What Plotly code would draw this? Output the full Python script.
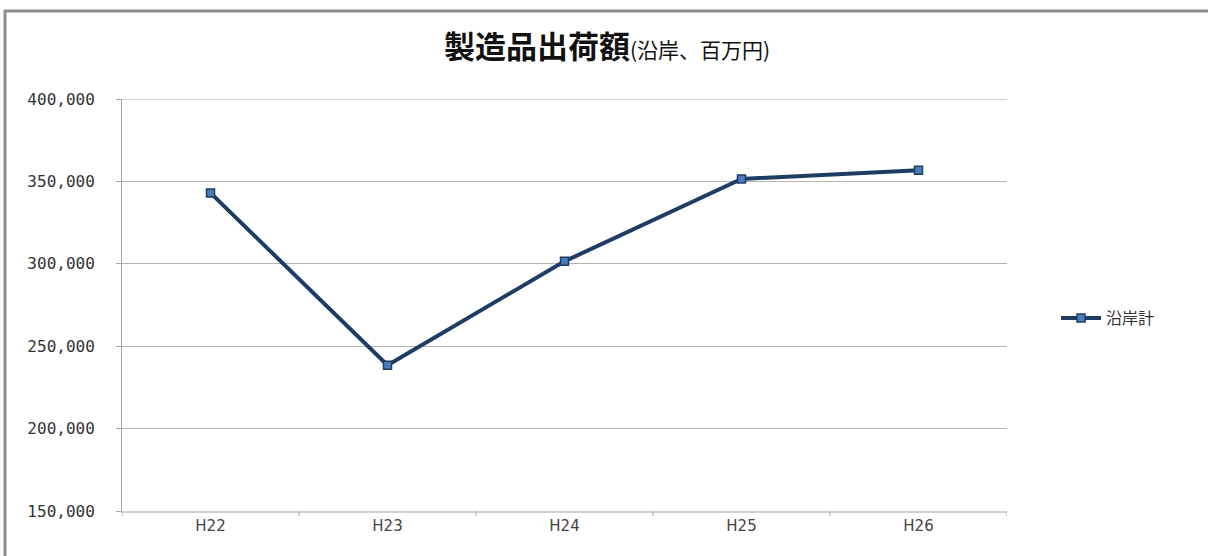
import plotly.graph_objects as go

categories = ["H22", "H23", "H24", "H25", "H26"]
values = [343000, 238500, 301500, 351500, 356800]
series_name = "沿岸計"
y_ticks = [150000, 200000, 250000, 300000, 350000, 400000]
y_tick_labels = ["150,000", "200,000", "250,000", "300,000", "350,000", "400,000"]

fig = go.Figure()
fig.add_trace(go.Scatter(
    x=categories, y=values, name=series_name, mode="lines+markers",
    line=dict(color="#1f3c64", width=4),
    marker=dict(symbol="square", size=8, color="#4a7ebb",
                line=dict(color="#1f3c64", width=1.5)),
))

L, R, T, B = 122, 201, 99, 45
W, H = 1208, 556
pw, ph = W - L - R, H - T - B

def px(x):
    return (x - L) / pw

def py(y):
    return (H - B - y) / ph

fig.update_layout(
    width=W, height=H,
    margin=dict(l=L, r=R, t=T, b=B),
    paper_bgcolor="white", plot_bgcolor="white",
    showlegend=True,
    legend=dict(x=px(1056), y=py(318), xanchor="left", yanchor="middle",
                font=dict(family="Noto Sans CJK JP", size=16, color="#333333"),
                bgcolor="rgba(0,0,0,0)", itemwidth=40),
    title=dict(
        text="<b>製造品出荷額</b><span style='font-size:21px'>(沿岸、百万円)</span>",
        x=607 / W, xref="container", xanchor="center", y=1 - 47 / H, yanchor="middle",
        font=dict(family="Noto Sans CJK JP", size=31, color="#111111"),
    ),
    xaxis=dict(
        type="category", range=[-0.5, 4.5],
        showgrid=False, showline=True, linecolor="#d0d0d0", linewidth=2,
        ticks="", tickfont=dict(family="DejaVu Sans", size=15, color="#444444"),
        fixedrange=True,
    ),
    yaxis=dict(
        range=[150000, 400000], tickvals=y_ticks, ticktext=y_tick_labels,
        showgrid=True, gridcolor="#b4b4b4", gridwidth=1,
        showline=True, linecolor="#a8a8a8", linewidth=1,
        ticks="outside", ticklen=5, tickcolor="#a8a8a8",
        ticklabelstandoff=18,
        tickfont=dict(family="DejaVu Sans Mono", size=16, color="#333333"),
        zeroline=False, fixedrange=True,
    ),
)

# light top gridline
fig.add_shape(type="line", xref="paper", yref="y", x0=0, x1=1, y0=400000, y1=400000,
              line=dict(color="#d4d4d4", width=2), layer="above")
# x-axis tick marks between categories
for i in range(len(categories) + 1):
    fig.add_shape(type="line", xref="x", yref="paper", x0=i - 0.5, x1=i - 0.5,
                  y0=0, y1=-5 / ph, line=dict(color="#a8a8a8", width=1))
# outer chart border (left/top visible)
fig.add_shape(type="line", xref="paper", yref="paper", x0=px(5), x1=px(5),
              y0=py(10), y1=py(560), line=dict(color="#8c8c8c", width=3))
fig.add_shape(type="line", xref="paper", yref="paper", x0=px(4), x1=px(1220),
              y0=py(11), y1=py(11), line=dict(color="#8c8c8c", width=3))

fig.write_html("out.html", config={"displayModeBar": False},
               post_script="document.body.style.margin='0';document.body.style.overflow='hidden';")
